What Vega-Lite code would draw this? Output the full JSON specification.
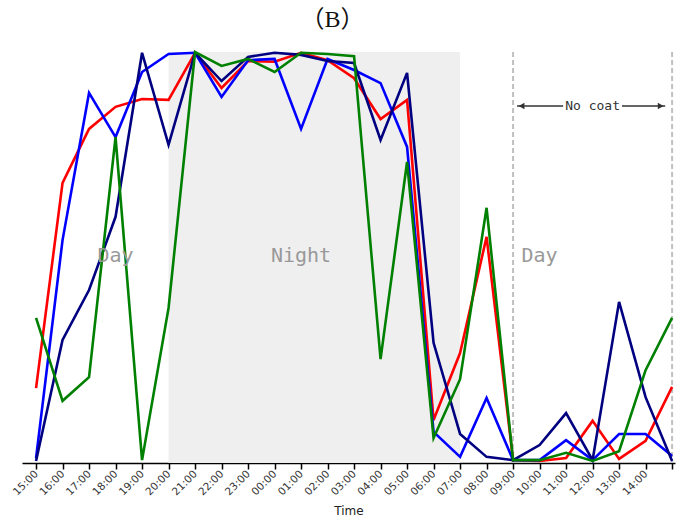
{
  "$schema": "https://vega.github.io/schema/vega-lite/v6.json",
  "width": 653,
  "height": 411,
  "autosize": {"type": "none"},
  "padding": {"left": 22, "top": 52, "right": 9, "bottom": 61},
  "background": "white",
  "title": {"text": "（B）", "anchor": "middle", "offset": 15, "dx": -16, "fontSize": 24, "font": "Liberation Serif, Noto Sans CJK SC", "fontWeight": "normal", "color": "#111"},
  "config": {"view": {"stroke": null}, "axis": {"labelOverlap": false}},
  "datasets": {
    "series": [
      {"i":0,"time":"15:00","s":"red","v":17.8},{"i":1,"time":"16:00","s":"red","v":68.0},{"i":2,"time":"17:00","s":"red","v":81.2},{"i":3,"time":"18:00","s":"red","v":86.6},{"i":4,"time":"19:00","s":"red","v":88.5},{"i":5,"time":"20:00","s":"red","v":88.3},{"i":6,"time":"21:00","s":"red","v":99.8},{"i":7,"time":"22:00","s":"red","v":91.2},{"i":8,"time":"23:00","s":"red","v":97.8},{"i":9,"time":"00:00","s":"red","v":97.6},{"i":10,"time":"01:00","s":"red","v":99.8},{"i":11,"time":"02:00","s":"red","v":98.0},{"i":12,"time":"03:00","s":"red","v":93.6},{"i":13,"time":"04:00","s":"red","v":83.6},{"i":14,"time":"05:00","s":"red","v":88.3},{"i":15,"time":"06:00","s":"red","v":10.0},{"i":16,"time":"07:00","s":"red","v":26.4},{"i":17,"time":"08:00","s":"red","v":54.8},{"i":18,"time":"09:00","s":"red","v":0.2},{"i":19,"time":"10:00","s":"red","v":0.0},{"i":20,"time":"11:00","s":"red","v":0.7},{"i":21,"time":"12:00","s":"red","v":9.8},{"i":22,"time":"13:00","s":"red","v":0.5},{"i":23,"time":"14:00","s":"red","v":4.9},{"i":24,"time":"15:00+","s":"red","v":18.1},
      {"i":0,"time":"15:00","s":"blue","v":0.7},{"i":1,"time":"16:00","s":"blue","v":54.0},{"i":2,"time":"17:00","s":"blue","v":90.0},{"i":3,"time":"18:00","s":"blue","v":79.2},{"i":4,"time":"19:00","s":"blue","v":95.1},{"i":5,"time":"20:00","s":"blue","v":99.5},{"i":6,"time":"21:00","s":"blue","v":99.8},{"i":7,"time":"22:00","s":"blue","v":89.0},{"i":8,"time":"23:00","s":"blue","v":98.0},{"i":9,"time":"00:00","s":"blue","v":98.3},{"i":10,"time":"01:00","s":"blue","v":81.2},{"i":11,"time":"02:00","s":"blue","v":98.3},{"i":12,"time":"03:00","s":"blue","v":95.6},{"i":13,"time":"04:00","s":"blue","v":92.4},{"i":14,"time":"05:00","s":"blue","v":76.8},{"i":15,"time":"06:00","s":"blue","v":7.1},{"i":16,"time":"07:00","s":"blue","v":1.0},{"i":17,"time":"08:00","s":"blue","v":15.4},{"i":18,"time":"09:00","s":"blue","v":0.2},{"i":19,"time":"10:00","s":"blue","v":0.2},{"i":20,"time":"11:00","s":"blue","v":5.1},{"i":21,"time":"12:00","s":"blue","v":0.2},{"i":22,"time":"13:00","s":"blue","v":6.6},{"i":23,"time":"14:00","s":"blue","v":6.6},{"i":24,"time":"15:00+","s":"blue","v":1.2},
      {"i":0,"time":"15:00","s":"navy","v":0.0},{"i":1,"time":"16:00","s":"navy","v":29.6},{"i":2,"time":"17:00","s":"navy","v":41.8},{"i":3,"time":"18:00","s":"navy","v":59.7},{"i":4,"time":"19:00","s":"navy","v":99.8},{"i":5,"time":"20:00","s":"navy","v":77.3},{"i":6,"time":"21:00","s":"navy","v":99.8},{"i":7,"time":"22:00","s":"navy","v":92.9},{"i":8,"time":"23:00","s":"navy","v":98.8},{"i":9,"time":"00:00","s":"navy","v":99.8},{"i":10,"time":"01:00","s":"navy","v":99.3},{"i":11,"time":"02:00","s":"navy","v":97.8},{"i":12,"time":"03:00","s":"navy","v":97.3},{"i":13,"time":"04:00","s":"navy","v":78.5},{"i":14,"time":"05:00","s":"navy","v":94.9},{"i":15,"time":"06:00","s":"navy","v":28.9},{"i":16,"time":"07:00","s":"navy","v":6.6},{"i":17,"time":"08:00","s":"navy","v":1.0},{"i":18,"time":"09:00","s":"navy","v":0.2},{"i":19,"time":"10:00","s":"navy","v":3.9},{"i":20,"time":"11:00","s":"navy","v":11.7},{"i":21,"time":"12:00","s":"navy","v":0.2},{"i":22,"time":"13:00","s":"navy","v":38.9},{"i":23,"time":"14:00","s":"navy","v":15.6},{"i":24,"time":"15:00+","s":"navy","v":0.0},
      {"i":0,"time":"15:00","s":"green","v":35.0},{"i":1,"time":"16:00","s":"green","v":14.7},{"i":2,"time":"17:00","s":"green","v":20.5},{"i":3,"time":"18:00","s":"green","v":79.2},{"i":4,"time":"19:00","s":"green","v":0.2},{"i":5,"time":"20:00","s":"green","v":37.4},{"i":6,"time":"21:00","s":"green","v":100.0},{"i":7,"time":"22:00","s":"green","v":96.6},{"i":8,"time":"23:00","s":"green","v":98.3},{"i":9,"time":"00:00","s":"green","v":95.1},{"i":10,"time":"01:00","s":"green","v":99.8},{"i":11,"time":"02:00","s":"green","v":99.5},{"i":12,"time":"03:00","s":"green","v":99.0},{"i":13,"time":"04:00","s":"green","v":24.9},{"i":14,"time":"05:00","s":"green","v":73.1},{"i":15,"time":"06:00","s":"green","v":5.6},{"i":16,"time":"07:00","s":"green","v":20.0},{"i":17,"time":"08:00","s":"green","v":61.9},{"i":18,"time":"09:00","s":"green","v":0.2},{"i":19,"time":"10:00","s":"green","v":0.2},{"i":20,"time":"11:00","s":"green","v":2.0},{"i":21,"time":"12:00","s":"green","v":0.0},{"i":22,"time":"13:00","s":"green","v":2.4},{"i":23,"time":"14:00","s":"green","v":22.2},{"i":24,"time":"15:00+","s":"green","v":35.0}
    ]
  },
  "layer": [
    {
      "data": {"values": [{"start": 5, "end": 16}]},
      "mark": {"type": "rect", "color": "#efefef"},
      "encoding": {
        "x": {"field": "start", "type": "quantitative", "scale": {"domain": [-0.53, 24.11], "nice": false, "zero": false},
          "axis": {"values": [0,1,2,3,4,5,6,7,8,9,10,11,12,13,14,15,16,17,18,19,20,21,22,23,24], "tickCount": 30,
            "labelExpr": "['15:00','16:00','17:00','18:00','19:00','20:00','21:00','22:00','23:00','00:00','01:00','02:00','03:00','04:00','05:00','06:00','07:00','08:00','09:00','10:00','11:00','12:00','13:00','14:00',''][datum.value]",
            "labelOverlap": false, "labelBound": false, "labelFlush": false,
            "labelAngle": -45, "labelAlign": "right", "labelBaseline": "middle", "labelFontSize": 10.5, "labelFont": "DejaVu Sans", "labelColor": "#333", "labelPadding": 3,
            "domainColor": "#000", "domainWidth": 1.5, "tickColor": "#000", "tickWidth": 1.5, "tickSize": 6, "grid": false,
            "title": "Time", "titleFont": "DejaVu Sans", "titleFontSize": 12, "titleFontWeight": "normal", "titleColor": "#222", "titlePadding": 8}},
        "x2": {"field": "end"}
      }
    },
    {
      "data": {"values": [{"x": 18}, {"x": 24}]},
      "mark": {"type": "rule", "color": "#c0c0c0", "strokeWidth": 2, "strokeDash": [5, 3]},
      "encoding": {"x": {"field": "x", "type": "quantitative"}}
    },
    {
      "data": {"name": "series"},
      "mark": {"type": "line", "strokeWidth": 2.6},
      "encoding": {
        "x": {"field": "i", "type": "quantitative"},
        "y": {"field": "v", "type": "quantitative", "scale": {"domain": [-0.5, 100], "nice": false, "zero": false}, "axis": null},
        "color": {"field": "s", "type": "nominal", "scale": {"domain": ["red", "blue", "navy", "green"], "range": ["#ff0000", "#0000ff", "#000080", "#008000"]}, "legend": null},
        "order": {"field": "i", "type": "quantitative"}
      }
    },
    {
      "data": {"values": [{"x": 3, "y": 50, "label": "Day"}, {"x": 10, "y": 50, "label": "Night"}, {"x": 19, "y": 50, "label": "Day"}]},
      "mark": {"type": "text", "font": "DejaVu Sans Mono", "fontSize": 20, "color": "#999", "align": "center", "baseline": "middle"},
      "encoding": {"x": {"field": "x", "type": "quantitative"}, "y": {"field": "y", "type": "quantitative"}, "text": {"field": "label"}}
    },
    {
      "data": {"values": [{"x": 18.15, "x2": 19.89, "y": 86.8}, {"x": 22.11, "x2": 23.74, "y": 86.8}]},
      "mark": {"type": "rule", "color": "#333", "strokeWidth": 1.5},
      "encoding": {"x": {"field": "x", "type": "quantitative"}, "x2": {"field": "x2"}, "y": {"field": "y", "type": "quantitative"}}
    },
    {
      "data": {"values": [{"x": 18.32, "y": 86.8, "dir": "l"}, {"x": 23.57, "y": 86.8, "dir": "r"}]},
      "mark": {"type": "point", "filled": true, "color": "#333", "size": 45, "opacity": 1},
      "encoding": {
        "x": {"field": "x", "type": "quantitative"},
        "y": {"field": "y", "type": "quantitative"},
        "shape": {"field": "dir", "type": "nominal", "scale": {"domain": ["l", "r"], "range": ["triangle-left", "triangle-right"]}, "legend": null}
      }
    },
    {
      "data": {"values": [{"x": 21.0, "y": 86.8, "label": "No coat"}]},
      "mark": {"type": "text", "font": "DejaVu Sans Mono", "fontSize": 13, "color": "#333", "align": "center", "baseline": "middle"},
      "encoding": {"x": {"field": "x", "type": "quantitative"}, "y": {"field": "y", "type": "quantitative"}, "text": {"field": "label"}}
    }
  ]
}
